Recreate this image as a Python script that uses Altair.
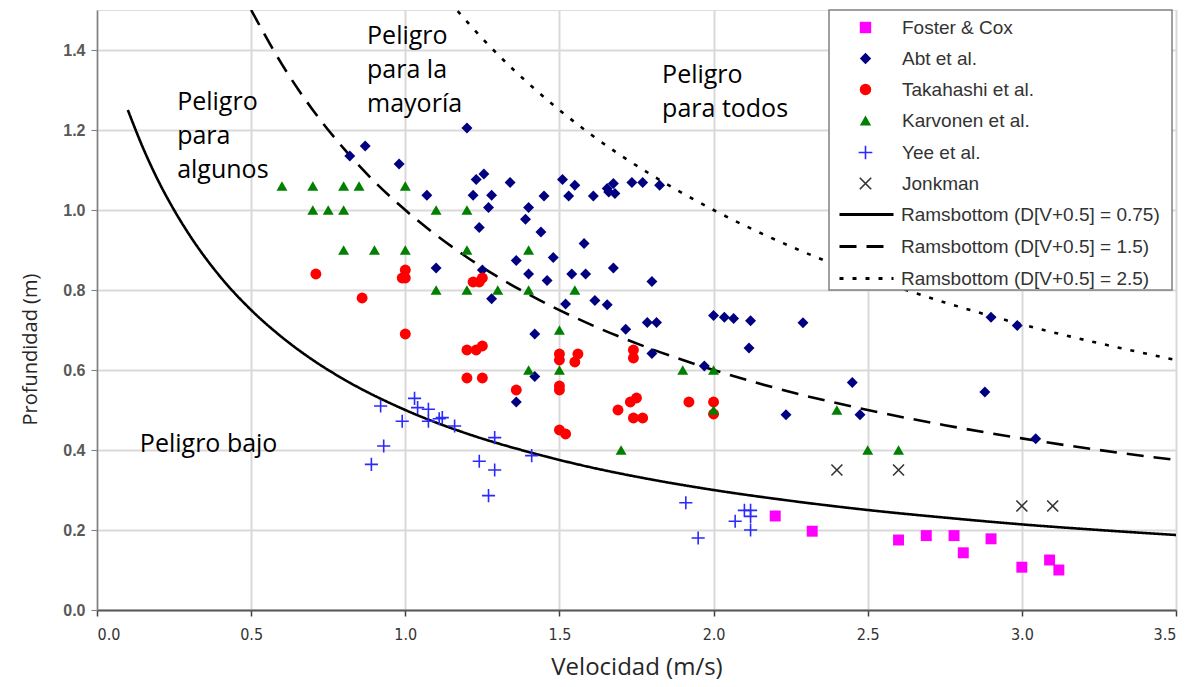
import altair as alt
import pandas as pd

# ---------------- data ----------------
series_order = ["Foster & Cox", "Abt et al.", "Takahashi et al.", "Karvonen et al.", "Yee et al.", "Jonkman"]

foster_v = [2.2, 2.32, 2.6, 2.69, 2.78, 2.81, 2.9, 3.0, 3.09, 3.12]
foster_d = [0.235, 0.197, 0.175, 0.186, 0.186, 0.143, 0.178, 0.107, 0.125, 0.10]

abt_v = [0.82, 0.87, 0.98, 1.2, 1.07, 1.1, 1.22, 1.23, 1.24, 1.255, 1.28, 1.27, 1.34, 1.25, 1.28,
         1.4, 1.39, 1.44, 1.45, 1.51, 1.55, 1.53, 1.61, 1.655, 1.675, 1.68, 1.66, 1.735, 1.77, 1.825,
         1.58, 1.48, 1.36, 1.4, 1.46, 1.54, 1.585, 1.675, 1.8, 1.52, 1.615, 1.655, 1.42, 1.715, 1.785,
         1.815, 1.36, 1.42, 1.8, 1.97, 2.0, 2.035, 2.065, 2.12, 2.29, 2.115, 2.235, 2.45, 2.475, 2.88,
         2.9, 2.985, 3.045]
abt_d = [1.135, 1.16, 1.115, 1.205, 1.037, 0.855, 1.037, 1.076, 0.956, 1.09, 1.037, 1.006, 1.069, 0.85, 0.778,
         1.006, 0.977, 0.945, 1.035, 1.076, 1.062, 1.035, 1.035, 1.054, 1.066, 1.041, 1.045, 1.069, 1.069, 1.062,
         0.916, 0.881, 0.874, 0.84, 0.824, 0.84, 0.84, 0.855, 0.821, 0.765, 0.774, 0.763, 0.69, 0.702, 0.719,
         0.719, 0.52, 0.584, 0.641, 0.61, 0.736, 0.732, 0.729, 0.723, 0.718, 0.655, 0.488, 0.569, 0.488, 0.545,
         0.732, 0.711, 0.428]

taka_v = [0.71, 0.86, 0.99, 1.0, 1.0, 1.0, 1.2, 1.23, 1.25, 1.2, 1.25, 1.22, 1.24, 1.25, 1.36, 1.5, 1.5,
          1.5, 1.5, 1.5, 1.52, 1.56, 1.55, 1.74, 1.74, 1.69, 1.73, 1.75, 1.74, 1.77, 1.92, 2.0, 2.0]
taka_d = [0.84, 0.78, 0.83, 0.85, 0.83, 0.69, 0.65, 0.65, 0.66, 0.58, 0.58, 0.82, 0.82, 0.83, 0.55, 0.64, 0.625,
          0.56, 0.55, 0.45, 0.44, 0.64, 0.62, 0.65, 0.63, 0.50, 0.52, 0.53, 0.48, 0.48, 0.52, 0.52, 0.49]

karv_v = [0.6, 0.7, 0.8, 0.85, 1.0, 0.7, 0.75, 0.8, 1.1, 1.2, 0.8, 0.9, 1.0, 1.2, 1.4, 1.1, 1.2, 1.3, 1.4,
          1.55, 1.5, 1.4, 1.5, 1.9, 2.0, 2.0, 2.4, 2.5, 2.6, 1.7]
karv_d = [1.06, 1.06, 1.06, 1.06, 1.06, 1.0, 1.0, 1.0, 1.0, 1.0, 0.9, 0.9, 0.9, 0.9, 0.9, 0.8, 0.8, 0.8, 0.8,
          0.8, 0.7, 0.6, 0.6, 0.6, 0.6, 0.5, 0.5, 0.4, 0.4, 0.4]

yee_v = [0.89, 0.92, 0.93, 0.99, 1.03, 1.04, 1.075, 1.075, 1.11, 1.12, 1.16, 1.24, 1.29, 1.29, 1.27, 1.41,
         1.91, 1.95, 2.07, 2.1, 2.12, 2.12, 2.12]
yee_d = [0.364, 0.51, 0.41, 0.472, 0.529, 0.506, 0.502, 0.472, 0.478, 0.481, 0.46, 0.372, 0.431, 0.35, 0.286,
         0.386, 0.268, 0.18, 0.222, 0.249, 0.249, 0.234, 0.2]

jonk_v = [2.4, 2.6, 3.0, 3.1]
jonk_d = [0.35, 0.35, 0.26, 0.26]

# Ramsbottom curves D(V+0.5) = const
curve_names = ["Ramsbottom (D[V+0.5] = 0.75)", "Ramsbottom (D[V+0.5] = 1.5)", "Ramsbottom (D[V+0.5] = 2.5)"]
c075_v = [0.1, 0.15, 0.2, 0.25, 0.3, 0.4, 0.5, 0.6, 0.7, 0.8, 1.0, 1.2, 1.4, 1.6, 1.8, 2.0, 2.25, 2.5, 2.75, 3.0, 3.25, 3.5]
c075_d = [1.25, 1.154, 1.071, 1.0, 0.9375, 0.833, 0.75, 0.682, 0.625, 0.577, 0.5, 0.441, 0.395, 0.357, 0.326, 0.3, 0.273, 0.25, 0.231, 0.214, 0.2, 0.1875]
c15_v = [0.5, 0.6, 0.7, 0.8, 0.9, 1.0, 1.2, 1.4, 1.6, 1.8, 2.0, 2.25, 2.5, 2.75, 3.0, 3.25, 3.5]
c15_d = [1.5, 1.364, 1.25, 1.154, 1.071, 1.0, 0.882, 0.789, 0.714, 0.652, 0.6, 0.545, 0.5, 0.462, 0.429, 0.4, 0.375]
c25_v = [1.17, 1.2, 1.3, 1.4, 1.6, 1.8, 2.0, 2.25, 2.5, 2.75, 3.0, 3.25, 3.5]
c25_d = [1.497, 1.471, 1.389, 1.316, 1.19, 1.087, 1.0, 0.909, 0.833, 0.769, 0.714, 0.667, 0.625]

# annotation labels
ann_text = ["Peligro", "para", "algunos", "Peligro", "para la", "mayoría", "Peligro", "para todos", "Peligro bajo"]
ann_v = [0.26, 0.26, 0.26, 0.876, 0.876, 0.876, 1.833, 1.833, 0.139]
ann_d = [1.249, 1.164, 1.079, 1.415, 1.33, 1.244, 1.317, 1.232, 0.396]

x_ticks = [0.0, 0.5, 1.0, 1.5, 2.0, 2.5, 3.0, 3.5]
y_ticks = [0.0, 0.2, 0.4, 0.6, 0.8, 1.0, 1.2, 1.4]

# ---------------- tables ----------------
rows = []
for name, vs, ds in [("Foster & Cox", foster_v, foster_d), ("Abt et al.", abt_v, abt_d),
                     ("Takahashi et al.", taka_v, taka_d), ("Karvonen et al.", karv_v, karv_d),
                     ("Yee et al.", yee_v, yee_d), ("Jonkman", jonk_v, jonk_d)]:
    for v, d in zip(vs, ds):
        rows.append({"Serie": name, "V": v, "D": d})
pts = pd.DataFrame(rows)

crow = []
for name, vs, ds in zip(curve_names, [c075_v, c15_v, c25_v], [c075_d, c15_d, c25_d]):
    for i, (v, d) in enumerate(zip(vs, ds)):
        crow.append({"Curva": name, "V": v, "D": d, "i": i})
curves = pd.DataFrame(crow)

ann = pd.DataFrame({"t": ann_text, "V": ann_v, "D": ann_d})

xs = alt.Scale(domain=[0, 3.5], nice=False, zero=False)
ys = alt.Scale(domain=[0, 1.5], nice=False, zero=False)

x_enc = alt.X("V:Q", scale=xs, axis=alt.Axis(
    values=x_ticks, format=".1f", title="Velocidad (m/s)",
    labelFont="'DejaVu Sans Condensed', 'Liberation Sans Narrow', sans-serif", labelFontSize=16,
    labelColor="#333333", labelPadding=10, tickColor="#404040", tickSize=6, tickWidth=1.5,
    domainColor="#595959", domainWidth=2, grid=True, gridColor="#d9d9d9", gridWidth=2,
    titleFont="Open Sans", titleFontSize=24, titleFontWeight="normal", titleColor="#262626",
    titleX=539.5, titleY=57, titleBaseline="middle", titleAlign="center"))
y_enc = alt.Y("D:Q", scale=ys, axis=alt.Axis(
    values=y_ticks, format=".1f", title="Profundidad (m)",
    labelFont="Liberation Sans", labelFontSize=16, labelFontWeight="bold",
    labelColor="#595959", labelPadding=6, tickColor="#808080", tickSize=6,
    domainColor="#808080", domainWidth=1.5, grid=True, gridColor="#d9d9d9", gridWidth=2,
    titleFont="Open Sans", titleFontSize=20, titleFontWeight="normal", titleColor="#262626",
    titleX=-67, titleY=339, titleAngle=270, titleBaseline="middle", titleAlign="center"))

pt_legend = alt.Legend(title=None, orient="none", legendX=759, legendY=8, padding=0,
                       labelFont="Liberation Sans", labelFontSize=19, labelColor="#333333",
                       labelOffset=27, labelLimit=400, rowPadding=11, symbolSize=130, symbolStrokeWidth=1.6)

fill_range = ["#ff00ff", "#000080", "#ff0000", "#008000", "transparent", "transparent"]
stroke_range = ["transparent", "transparent", "transparent", "transparent", "#2a2aff", "#333333"]
shape_range = ["square", "diamond", "circle", "triangle-up",
               "M-1.2,0L1.2,0M0,-1.2L0,1.2", "M-1,-1L1,1M-1,1L1,-1"]

points = alt.Chart(pts).mark_point(filled=True, size=120, strokeWidth=1.6, opacity=1).encode(
    x=x_enc, y=y_enc,
    shape=alt.Shape("Serie:N", scale=alt.Scale(domain=series_order, range=shape_range), legend=pt_legend),
    fill=alt.Fill("Serie:N", scale=alt.Scale(domain=series_order, range=fill_range), legend=pt_legend),
    stroke=alt.Stroke("Serie:N", scale=alt.Scale(domain=series_order, range=stroke_range), legend=pt_legend),
)

# wide horizontal line symbol: path spans 3x the nominal symbol width
ln_legend = alt.Legend(title=None, orient="none", legendX=759, legendY=194, padding=0,
                       labelFont="Liberation Sans", labelFontSize=19, labelColor="#333333",
                       labelOffset=24, labelLimit=400, rowPadding=11, symbolType="M-3,0L3,0",
                       symbolSize=324, symbolStrokeWidth=3, symbolStrokeColor="black",
                       symbolFillColor="transparent")

lines = alt.Chart(curves).mark_line(color="black", strokeWidth=2.6, clip=True, interpolate="monotone").encode(
    x=alt.X("V:Q", scale=xs), y=alt.Y("D:Q", scale=ys), order="i:Q",
    strokeDash=alt.StrokeDash("Curva:N", scale=alt.Scale(domain=curve_names, range=[[1, 0], [17, 10], [4, 9]]),
                              legend=ln_legend),
)

texts = alt.Chart(ann).mark_text(align="left", baseline="alphabetic", font="Open Sans", fontSize=25,
                                 color="black").encode(
    x=alt.X("V:Q", scale=xs), y=alt.Y("D:Q", scale=ys), text="t:N")

box = alt.Chart(pd.DataFrame({"k": [0]})).mark_rect(fill="white", stroke="#808080", strokeWidth=1.5).encode(
    x=alt.value(732), x2=alt.value(1075), y=alt.value(0), y2=alt.value(280))

chart = alt.layer(lines, points, texts, box).resolve_scale(
    shape="independent", fill="independent", stroke="independent", strokeDash="independent"
).properties(
    width=1079, height=600,
    padding={"left": 89, "top": 2, "right": 12, "bottom": 76},
    autosize=alt.AutoSizeParams(type="none"),
).configure_view(stroke="#999999", strokeWidth=1).configure(background="white")

chart.save("out.html", embed_options={"renderer": "svg", "actions": False})
